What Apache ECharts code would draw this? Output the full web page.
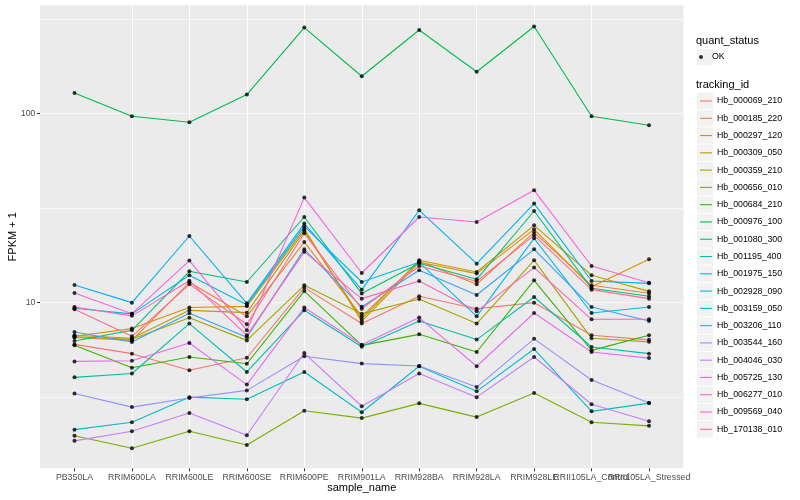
<!DOCTYPE html>
<html>
<head>
<meta charset="utf-8">
<script src="https://cdn.jsdelivr.net/npm/echarts@6/dist/echarts.min.js"></script>
<style>
html,body{margin:0;padding:0;background:#fff;}
#chart{width:800px;height:500px;}
</style>
</head>
<body>
<div id="chart"></div>
<script>
// ---------- data ----------
const categories = ['PB350LA','RRIM600LA','RRIM600LE','RRIM600SE','RRIM600PE','RRIM901LA','RRIM928BA','RRIM928LA','RRIM928LE','RRII105LA_Control','RRII105LA_Stressed'];
const trackingIds = ['Hb_000069_210','Hb_000185_220','Hb_000297_120','Hb_000309_050','Hb_000359_210','Hb_000656_010','Hb_000684_210','Hb_000976_100','Hb_001080_300','Hb_001195_400','Hb_001975_150','Hb_002928_090','Hb_003159_050','Hb_003206_110','Hb_003544_160','Hb_004046_030','Hb_005725_130','Hb_006277_010','Hb_009569_040','Hb_170138_010'];
const quantStatus = ['OK'];
const yTickValues = [10, 100];

const hb_000069_210 = [5.99, 5.35, 4.37, 5.09, 11.96, 7.72, 10.76, 9.24, 9.96, 6.69, 6.33];
const hb_000185_220 = [6.51, 6.29, 12.76, 8.43, 20.84, 8.43, 16.48, 12.45, 23.47, 12.30, 11.16];
const hb_000297_120 = [6.61, 7.26, 9.38, 9.52, 24.48, 7.93, 16.28, 14.19, 24.33, 12.08, 16.88];
const hb_000309_050 = [6.69, 6.45, 9.07, 8.82, 23.89, 8.18, 16.68, 14.47, 25.55, 13.90, 11.43];
const hb_000359_210 = [6.57, 6.37, 8.28, 6.29, 12.30, 8.69, 10.41, 7.72, 16.68, 6.45, 6.18];
const hb_000656_010 = [1.97, 1.69, 2.08, 1.76, 2.67, 2.44, 2.92, 2.47, 3.31, 2.32, 2.22];
const hb_000684_210 = [5.92, 4.51, 5.14, 4.73, 11.47, 5.92, 6.77, 5.46, 13.07, 5.57, 6.69];
const hb_000976_100 = [128.1, 96.4, 89.6, 125.7, 284, 157, 276, 166, 288, 96.4, 86.5];
const hb_001080_300 = [6.24, 7.11, 14.59, 12.81, 28.27, 11.12, 16.08, 13.24, 30.41, 11.86, 10.76];
const hb_001195_400 = [4.01, 4.20, 7.72, 4.28, 9.07, 5.82, 7.96, 6.35, 10.67, 5.80, 5.35];
const hb_001975_150 = [2.12, 2.32, 3.15, 3.07, 4.28, 2.62, 4.59, 3.38, 5.66, 2.65, 2.93];
const hb_002928_090 = [9.30, 8.69, 13.90, 9.70, 25.24, 12.81, 16.28, 8.43, 21.81, 8.78, 9.44];
const hb_003159_050 = [12.35, 9.96, 22.43, 9.88, 26.09, 11.67, 30.68, 16.02, 33.28, 12.97, 12.60];
const hb_003206_110 = [6.96, 6.17, 8.75, 6.53, 19.07, 9.47, 14.77, 10.93, 19.07, 9.44, 7.96];
const hb_003544_160 = [3.29, 2.79, 3.12, 3.42, 5.18, 4.74, 4.60, 3.56, 6.41, 3.88, 2.93];
const hb_004046_030 = [1.85, 2.08, 2.60, 1.98, 5.39, 2.82, 4.20, 3.15, 5.14, 2.89, 2.35];
const hb_005725_130 = [4.87, 4.91, 6.09, 3.67, 9.38, 5.97, 8.30, 4.59, 8.78, 5.46, 5.07];
const hb_006277_010 = [11.20, 8.71, 16.62, 7.11, 35.81, 14.29, 28.27, 26.60, 39.13, 15.56, 12.68];
const hb_009569_040 = [9.44, 8.48, 13.00, 6.69, 18.50, 10.46, 12.97, 8.96, 15.26, 8.13, 8.13];
const hb_170138_010 = [9.18, 6.61, 12.45, 7.65, 23.18, 9.24, 15.56, 12.92, 22.62, 11.67, 10.46];

const seriesValues = [hb_000069_210, hb_000185_220, hb_000297_120, hb_000309_050, hb_000359_210,
  hb_000656_010, hb_000684_210, hb_000976_100, hb_001080_300, hb_001195_400, hb_001975_150,
  hb_002928_090, hb_003159_050, hb_003206_110, hb_003544_160, hb_004046_030, hb_005725_130,
  hb_006277_010, hb_009569_040, hb_170138_010];

// ---------- style ----------
const palette = ['#F8766D','#EA8331','#D89000','#C09B00','#A3A500','#7CAE00','#39B600','#00BB4E','#00BF7D','#00C1A3',
  '#00BFC4','#00BAE0','#00B0F6','#35A2FF','#9590FF','#C77CFF','#E76BF3','#FA62DB','#FF62BC','#FF6C91'];
const FONT = '"Liberation Sans", Arial, Helvetica, sans-serif';
const yMin = 1.324, yMax = 372.7;
const rowH = 17.28;
const legendTop = 92.36;
const okTop = 48.36;

const chart = echarts.init(document.getElementById('chart'), null, {renderer: 'canvas'});

const lineSeries = trackingIds.map((id, k) => ({
  name: id,
  type: 'line',
  xAxisIndex: 0,
  yAxisIndex: 0,
  data: seriesValues[k].map((v, i) => [i, v]),
  showSymbol: false,
  symbol: 'none',
  lineStyle: {color: palette[k], width: 1.1},
  itemStyle: {color: palette[k]},
  emphasis: {disabled: true},
  z: 2
}));

const pointData = [];
seriesValues.forEach(vals => vals.forEach((v, i) => pointData.push([i, v])));

const keyRects = [];
keyRects.push({type: 'rect', shape: {x: 697, y: okTop + 0.5, width: 16, height: rowH - 1}, style: {fill: '#F2F2F2'}, silent: true});
trackingIds.forEach((id, k) => {
  keyRects.push({type: 'rect', shape: {x: 697, y: legendTop + k * rowH + 0.5, width: 16, height: rowH - 1}, style: {fill: '#F2F2F2'}, silent: true});
});

const isInt = v => Math.abs(v - Math.round(v)) < 1e-6;
// label positions listed so that the first two and last two entries never collide
// (ECharts drops an overlapping min/max label on value axes)
const catIdx = categories.map((c, i) => i);
const labelOrder = catIdx.slice(5).concat(catIdx.slice(0, 5));

chart.setOption({
  animation: false,
  textStyle: {fontFamily: FONT},
  title: [
    {text: 'quant_status', left: 696, top: 34.5, padding: 0,
     textStyle: {fontSize: 11, fontWeight: 'normal', color: '#000', fontFamily: FONT, lineHeight: 13}},
    {text: 'tracking_id', left: 696, top: 78, padding: 0,
     textStyle: {fontSize: 11, fontWeight: 'normal', color: '#000', fontFamily: FONT, lineHeight: 13}}
  ],
  graphic: keyRects,
  legend: [
    {
      data: quantStatus, orient: 'vertical', left: 699, top: okTop, padding: 0, itemGap: 0,
      icon: 'circle', itemWidth: 12, itemHeight: 4, selectedMode: false,
      itemStyle: {color: '#000', borderWidth: 0},
      textStyle: {fontSize: 8.8, color: '#000', fontFamily: FONT, lineHeight: rowH}
    },
    {
      data: trackingIds, orient: 'vertical', left: 700, top: legendTop, padding: 0, itemGap: 0,
      icon: 'path://M0,0H120V11H0Z', itemWidth: 12, itemHeight: 1.1, symbolKeepAspect: false,
      selectedMode: false, itemStyle: {borderWidth: 0},
      textStyle: {fontSize: 8.8, color: '#000', fontFamily: FONT, lineHeight: rowH}
    }
  ],
  grid: {left: 40, right: 116.5, top: 5.3, bottom: 31.7, show: true, backgroundColor: '#EBEBEB', borderWidth: 0,
    containLabel: false, outerBoundsMode: 'none'},
  xAxis: {
    type: 'value', min: -0.6, max: 10.6, splitNumber: 10,
    name: 'sample_name', nameLocation: 'middle', nameGap: 14, nameMoveOverlap: false,
    nameTextStyle: {fontSize: 11, color: '#000', fontFamily: FONT},
    axisLine: {show: false, onZero: false},
    axisTick: {show: true, length: 3, lineStyle: {color: '#333333', width: 1}, customValues: catIdx},
    axisLabel: {show: true, margin: 4.5, fontSize: 8.8, color: '#4D4D4D', fontFamily: FONT,
      customValues: labelOrder, hideOverlap: false, showMinLabel: true, showMaxLabel: true,
      formatter: v => isInt(v) ? categories[Math.round(v)] : ''},
    splitLine: {show: true, showMinLine: false, showMaxLine: false, lineStyle: {color: '#FFFFFF', width: 1.07}},
    minorSplitLine: {show: false}
  },
  yAxis: [
    {
      type: 'log', logBase: 10, min: yMin, max: yMax,
      name: 'FPKM + 1', nameLocation: 'middle', nameGap: 22, nameMoveOverlap: false,
      nameTextStyle: {fontSize: 11, color: '#000', fontFamily: FONT},
      axisLine: {show: false, onZero: false},
      axisTick: {show: true, length: 3, lineStyle: {color: '#333333', width: 1}, customValues: yTickValues},
      axisLabel: {show: true, margin: 4.5, fontSize: 8.8, color: '#4D4D4D', fontFamily: FONT,
        customValues: yTickValues, showMinLabel: true, showMaxLabel: true,
        formatter: v => String(Math.round(v))},
      splitLine: {show: true, showMinLine: false, showMaxLine: false, lineStyle: {color: '#FFFFFF', width: 1.07}}
    },
    {
      type: 'log', logBase: Math.sqrt(10), min: yMin, max: yMax, position: 'left',
      axisLine: {show: false, onZero: false}, axisTick: {show: false}, axisLabel: {show: false},
      splitLine: {show: true, showMinLine: false, showMaxLine: false, lineStyle: {color: '#FFFFFF', width: 0.55}}
    }
  ],
  series: lineSeries.concat([{
    name: 'OK',
    type: 'scatter',
    xAxisIndex: 0,
    yAxisIndex: 0,
    data: pointData,
    symbol: 'circle',
    symbolSize: 4,
    itemStyle: {color: '#000000'},
    emphasis: {disabled: true},
    z: 5
  }])
});
</script>
</body>
</html>
